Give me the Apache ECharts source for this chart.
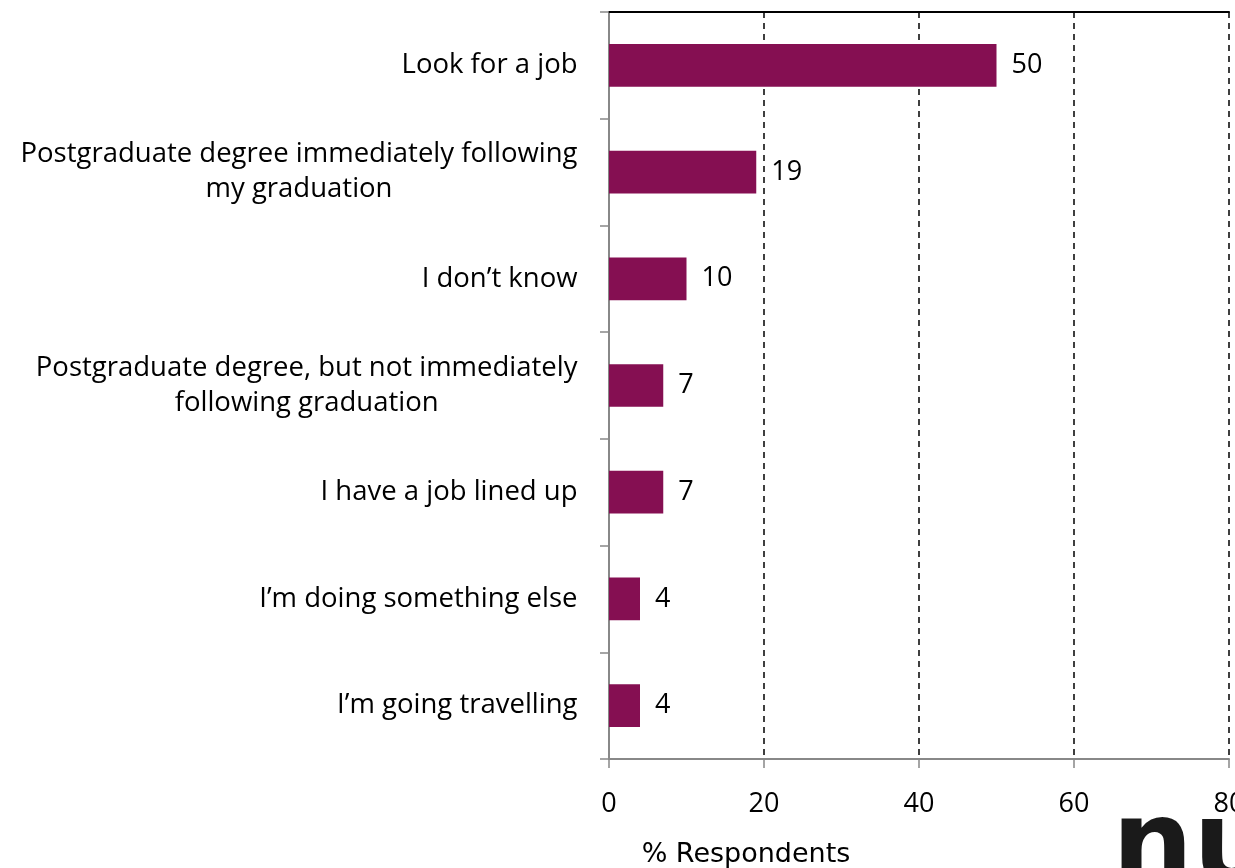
<!DOCTYPE html>
<html><head><meta charset="utf-8">
<script src="https://cdn.jsdelivr.net/npm/echarts@6/dist/echarts.min.js"></script>
<style>html,body{margin:0;padding:0;background:#fff}#c{width:1235px;height:868px}</style>
</head><body><div id="c"></div>
<script>
const categories = [
  "Look for a job",
  "Postgraduate degree immediately following\nmy graduation",
  "I don\u2019t know",
  "Postgraduate degree, but not immediately\nfollowing graduation",
  "I have a job lined up",
  "I\u2019m doing something else",
  "I\u2019m going travelling"
];
const values = [50, 19, 10, 7, 7, 4, 4];
const xTicks = [0, 20, 40, 60, 80];
const axisTitle = "% Respondents";

const labelFont = "'Open Sans', Lato, sans-serif";
const catFontSize = 27.5;

// center-aligned multi-line category labels inside a right-aligned block
const ctx = document.createElement('canvas').getContext('2d');
ctx.font = catFontSize + "px 'Open Sans'";
const rich = {};
categories.forEach((c, i) => {
  const w = Math.max(...c.split('\n').map(s => ctx.measureText(s).width)) + 1;
  rich['l' + i] = {width: w, align: 'center', fontSize: catFontSize, fontFamily: labelFont, color: '#000', lineHeight: 35};
});

const chart = echarts.init(document.getElementById('c'), null, {renderer: 'canvas'});
chart.setOption({
  animation: false,
  grid: {left: 609, right: 6, top: 12, bottom: 109, containLabel: false, outerBoundsMode: 'none'},
  xAxis: [{
    type: 'value', min: xTicks[0], max: xTicks[xTicks.length - 1], interval: 20,
    position: 'bottom',
    axisLine: {show: true, lineStyle: {color: '#888', width: 2}},
    axisTick: {show: true, length: 9, lineStyle: {color: '#888', width: 1.5}},
    axisLabel: {color: '#000', fontSize: 27, fontFamily: labelFont, margin: 32},
    splitLine: {show: true, lineStyle: {color: '#000', type: [6, 5], width: 1.5}}
  }, {
    type: 'value', min: xTicks[0], max: xTicks[xTicks.length - 1], interval: 20,
    position: 'top',
    axisLine: {show: true, lineStyle: {color: '#000', width: 2}},
    axisTick: {show: false}, axisLabel: {show: false}, splitLine: {show: false}
  }],
  yAxis: {
    type: 'category', data: categories, inverse: true,
    axisLine: {show: true, lineStyle: {color: '#888', width: 2}},
    axisTick: {show: true, length: 9, lineStyle: {color: '#888', width: 1.5}},
    axisLabel: {
      color: '#000', fontSize: catFontSize, fontFamily: labelFont, margin: 31, lineHeight: 35, align: 'right',
      rich: rich,
      formatter: (v, i) => v.split('\n').map(s => '{l' + i + '|' + s + '}').join('\n')
    },
    splitLine: {show: false}
  },
  series: [{
    type: 'bar', data: values, xAxisIndex: 0, barCategoryGap: '60%',
    itemStyle: {color: '#850F52'},
    label: {show: true, position: 'right', distance: 15, color: '#000', fontSize: 27, fontFamily: labelFont}
  }],
  graphic: [{
    type: 'text', x: 746, y: 855,
    style: {text: axisTitle, textAlign: 'center', textVerticalAlign: 'middle', fontSize: 27,
      fontFamily: "'DejaVu Sans', Verdana, sans-serif", fill: '#000'}
  }, {
    type: 'text', left: 1112, top: 794,
    style: {text: 'nu', fontSize: 114, fontWeight: 900, fontFamily: "'DejaVu Sans', sans-serif", fill: '#1a1a1a'}
  }]
});
</script></body></html>
